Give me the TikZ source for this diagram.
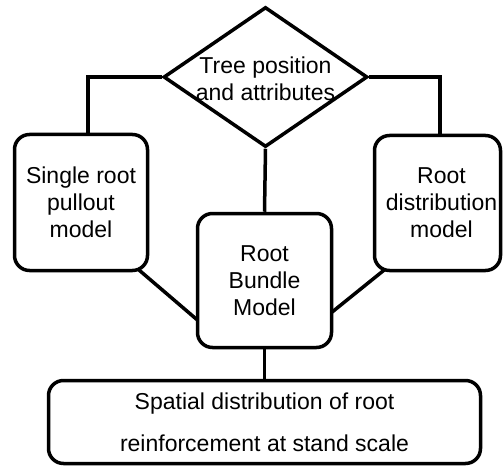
\documentclass[tikz,border=0pt]{standalone}
\usepackage{fontspec}
\setmainfont{Liberation Sans}
\usetikzlibrary{shapes.geometric,backgrounds}
\begin{document}
\begin{tikzpicture}[x=1pt,y=-1pt,
  every node/.style={font=\fontsize{23}{27}\selectfont},
  box/.style={draw, line width=3.5pt, rounded corners=15pt, fill=white, align=center, inner sep=0pt},
  conn/.style={line width=3.5pt},
  decision/.style={diamond, draw, line width=3.5pt, fill=white, inner sep=0pt, minimum width=204pt, minimum height=140pt}]
\useasboundingbox (0,0) rectangle (503,468);
\node[decision, label={[align=center, font=\fontsize{23}{27}\selectfont, yshift=-2pt]center:Tree position\\and attributes}] (tree) at (265.5,77) {};
\node[box, minimum width=133pt, minimum height=136pt] (single) at (81,202.5) {Single root\\pullout\\model};
\node[box, minimum width=126pt, minimum height=135pt] (distr) at (437.5,203) {\hspace*{8pt}Root\\\hspace*{8pt}distribution\\\hspace*{8pt}model};
\node[box, minimum width=134pt, minimum height=134pt] (bundle) at (264.5,280.5) {Root\\Bundle\\Model};
\node[box, minimum width=432pt, minimum height=83pt] (spatial) at (264.5,422) {Spatial distribution of root\\[15pt]reinforcement at stand scale};
\begin{pgfonlayer}{background}
\draw[conn] (tree.west) -| ([xshift=7pt]single.north);
\draw[conn] (tree.east) -| ([xshift=2.5pt]distr.north);
\draw[conn] (tree.south) -- (bundle.north);
\draw[conn, shorten <=-4pt, shorten >=-4pt] (single.-49) -- (bundle.-151);
\draw[conn, shorten <=-4pt, shorten >=-4pt] (distr.-129) -- (bundle.-24);
\draw[conn] (bundle.south) -- (spatial.north);
\end{pgfonlayer}
\end{tikzpicture}
\end{document}
